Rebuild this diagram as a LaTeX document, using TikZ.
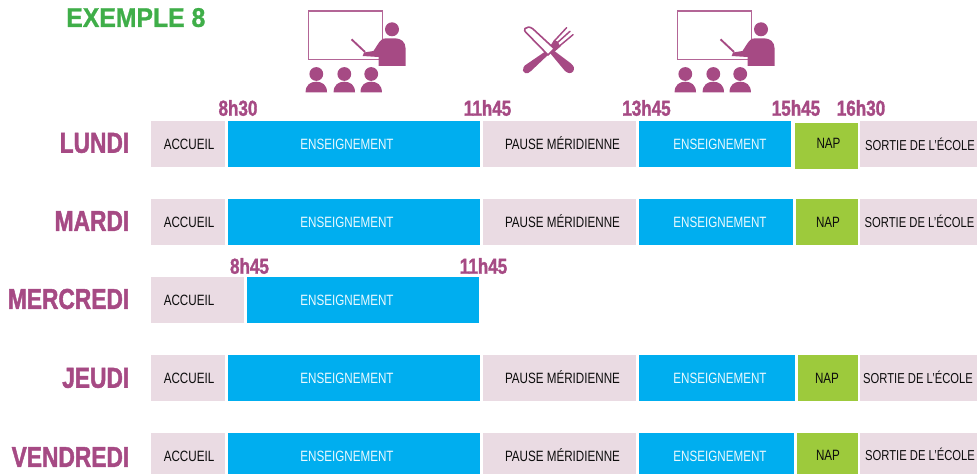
\documentclass[tikz,border=0pt]{standalone}
\usepackage{fontspec}
\setmainfont[FakeStretch=0.78]{Liberation Sans}
\newfontfamily\titlefont[FakeStretch=0.92,FakeBold=1]{Liberation Sans Bold}
\newfontfamily\heavyfont[FakeStretch=0.79,FakeBold=1.5]{Liberation Sans Bold}
\definecolor{violetc}{HTML}{A64A84}
\definecolor{rosec}{HTML}{EADBE3}
\definecolor{bleuc}{HTML}{00AEEF}
\definecolor{vertc}{HTML}{9DCA3C}
\definecolor{titrec}{HTML}{3FAE49}
\tikzset{
  slot/.style={inner sep=0pt,outer sep=0pt},
  pinkslot/.style={slot,fill=rosec},
  blueslot/.style={slot,fill=bleuc},
  greenslot/.style={slot,fill=vertc},
  slottext/.style={inner sep=0pt,yshift=-0.6pt,text=black!95,text height=0.716em,text depth=0pt,font=\fontsize{11.2}{13}\selectfont},
  sortietext/.style={slottext,font=\fontsize{10.8}{13}\selectfont},
  bluetext/.style={slottext,text=white!92!bleuc},
  daylabel/.style={anchor=east,inner sep=0pt,text=violetc,font=\heavyfont\fontsize{21.6}{24}\selectfont},
  timelabel/.style={inner sep=0pt,text=violetc,font=\heavyfont\fontsize{16.2}{18}\selectfont},
  teacher/.pic={
    \draw[violetc!85,line width=1.1pt] (308.3,11) rectangle (382.7,59.5);
    \fill[violetc] (392,29.3) circle (7);
    \fill[violetc] (378.7,66) -- (405.5,66) -- (405.5,48) .. controls (405.5,42) and (401,38.3) .. (395,38.3) -- (386,38.3) .. controls (382,38.3) and (380,41) .. (378,44) -- (373.5,51) -- (364,52.5) -- (362.7,56) -- (378.7,57) -- cycle;
    \draw[violetc,line width=1.4pt] (351.5,39.3) -- (365,52);
    \foreach \cx in {316.3,344.3,371.2} {
      \fill[violetc] (\cx,74) circle (6.9);
      \fill[violetc] (\cx-10.7,92.3) .. controls (\cx-10.7,85) and (\cx-6,81.7) .. (\cx,81.7) .. controls (\cx+6,81.7) and (\cx+10.7,85) .. (\cx+10.7,92.3) -- cycle;
    }
  }
}
\newcommand{\slotbox}[9]{% name, style, x0, x1, y0, y1, text style, text x, text
  \node[#2,minimum width=#4*0.75pt-#3*0.75pt,minimum height=#6*0.75pt-#5*0.75pt] (#1) at ({(#3+#4)/2},{(#5+#6)/2}) {};
  \slotlabel{#1}{#7}{#8}{#9}}
\newcommand{\slotlabel}[4]{\node[#2,anchor=center] (#1t) at (#3,\slotcy) {#4};}
\newcommand{\slotcy}{144}
\begin{document}
\begin{tikzpicture}[x=0.75pt,y=-0.75pt]
\useasboundingbox (0,0) rectangle (977,474);
\node[anchor=west,inner sep=0pt,text=titrec,font=\titlefont\fontsize{20.2}{24}\selectfont] (titre) at (66,17.6) {EXEMPLE 8};
\pic at (0,0) {teacher};
\pic at (369,0) {teacher};
% fork
\fill[violetc] (523.5,67.5) .. controls (522,70) and (523,72) .. (525,73) .. controls (527,74) and (529,73) .. (531,71) -- (549,54) -- (546,51) -- (527,64) .. controls (525,65) and (524,66) .. (523.5,67.5) -- cycle;
\draw[violetc,line width=1.1pt,line cap=round] (554.3,41) -- (566.7,27.6) (557,43) -- (570,31.3) (559.5,46) -- (573,34.7);
\fill[violetc] (549,48) -- (554,40) -- (557.5,41.5) -- (560.5,46.5) -- (553,53) -- cycle;
% knife
\draw[violetc,line width=1.2pt,line join=round,fill=white] (525,28.5) .. controls (527,26.5) and (530,26.5) .. (533,29) -- (554.3,48.7) -- (548,55) -- (527,33.5) .. controls (524.5,31) and (524,30) .. (525,28.5) -- cycle;
\fill[violetc] (550,53) -- (553,50) -- (571,63.5) .. controls (574,66) and (575,69) .. (573,71.5) .. controls (571,74) and (568,73.5) .. (565,71) -- cycle;
% times
\node[timelabel] (t1) at (238,108) {8h30};
\node[timelabel] (t2) at (487.5,108) {11h45};
\node[timelabel] (t3) at (646.5,108) {13h45};
\node[timelabel] (t4) at (796,108) {15h45};
\node[timelabel] (t5) at (861,108) {16h30};
\node[timelabel] (t6) at (249.5,266) {8h45};
\node[timelabel] (t7) at (483.5,266) {11h45};
% days
\node[daylabel] (lundi) at (129.5,143) {LUNDI};
\node[daylabel] (mardi) at (129.5,221) {MARDI};
\node[daylabel] (mercredi) at (129.5,299) {MERCREDI};
\node[daylabel] (jeudi) at (129.5,378) {JEUDI};
\node[daylabel] (vendredi) at (129.5,457) {VENDREDI};
% Lundi
\renewcommand{\slotcy}{144}
\slotbox{a1}{pinkslot}{151}{225}{121}{167}{slottext}{189}{ACCUEIL}
\slotbox{b1}{blueslot}{228}{480}{121}{167}{bluetext}{347}{ENSEIGNEMENT}
\slotbox{c1}{pinkslot}{483}{636}{121}{167}{slottext}{562.5}{PAUSE MÉRIDIENNE}
\slotbox{d1}{blueslot}{639}{791}{121}{167}{bluetext}{720}{ENSEIGNEMENT}
\renewcommand{\slotcy}{143}
\slotbox{e1}{greenslot}{795}{858}{123}{169}{slottext}{828.5}{NAP}
\renewcommand{\slotcy}{144.5}
\slotbox{f1}{pinkslot}{860}{977}{121}{167}{sortietext}{920}{SORTIE DE L’ÉCOLE}
% Mardi
\renewcommand{\slotcy}{222}
\slotbox{a2}{pinkslot}{151}{225}{199}{245}{slottext}{189}{ACCUEIL}
\slotbox{b2}{blueslot}{228}{480}{199}{245}{bluetext}{347}{ENSEIGNEMENT}
\slotbox{c2}{pinkslot}{483}{636}{199}{245}{slottext}{562.5}{PAUSE MÉRIDIENNE}
\slotbox{d2}{blueslot}{639}{793}{199}{245}{bluetext}{720}{ENSEIGNEMENT}
\slotbox{e2}{greenslot}{796}{858}{199}{245}{slottext}{828}{NAP}
\slotbox{f2}{pinkslot}{860}{977}{199}{245}{sortietext}{919.5}{SORTIE DE L’ÉCOLE}
% Mercredi
\renewcommand{\slotcy}{300}
\slotbox{a3}{pinkslot}{151}{244}{277}{323}{slottext}{189}{ACCUEIL}
\slotbox{b3}{blueslot}{247}{479}{277}{323}{bluetext}{347}{ENSEIGNEMENT}
% Jeudi
\renewcommand{\slotcy}{378}
\slotbox{a4}{pinkslot}{151}{225}{355}{401}{slottext}{189}{ACCUEIL}
\slotbox{b4}{blueslot}{228}{480}{355}{401}{bluetext}{347}{ENSEIGNEMENT}
\slotbox{c4}{pinkslot}{483}{636}{355}{401}{slottext}{562.5}{PAUSE MÉRIDIENNE}
\slotbox{d4}{blueslot}{639}{795}{355}{401}{bluetext}{720}{ENSEIGNEMENT}
\slotbox{e4}{greenslot}{798}{858}{355}{401}{slottext}{827}{NAP}
\slotbox{f4}{pinkslot}{860}{977}{355}{401}{sortietext}{918}{SORTIE DE L’ÉCOLE}
% Vendredi
\renewcommand{\slotcy}{456}
\slotbox{a5}{pinkslot}{151}{225}{433}{474}{slottext}{189}{ACCUEIL}
\slotbox{b5}{blueslot}{228}{480}{433}{474}{bluetext}{347}{ENSEIGNEMENT}
\slotbox{c5}{pinkslot}{483}{636}{433}{474}{slottext}{562.5}{PAUSE MÉRIDIENNE}
\slotbox{d5}{blueslot}{639}{794}{433}{474}{bluetext}{720}{ENSEIGNEMENT}
\renewcommand{\slotcy}{455}
\slotbox{e5}{greenslot}{797}{858}{433}{474}{slottext}{828}{NAP}
\renewcommand{\slotcy}{454.5}
\slotbox{f5}{pinkslot}{860}{977}{433}{474}{sortietext}{920}{SORTIE DE L’ÉCOLE}
\end{tikzpicture}
\end{document}
